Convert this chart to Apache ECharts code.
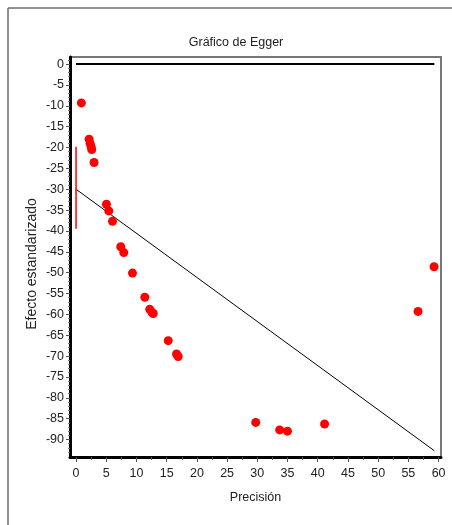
<!DOCTYPE html>
<html>
<head>
<meta charset="utf-8">
<title>Gráfico de Egger</title>
<script src="https://cdn.jsdelivr.net/npm/echarts@6/dist/echarts.min.js"></script>
<style>
  html, body { margin: 0; padding: 0; background: #fff; }
  #chart { width: 452px; height: 525px; }
</style>
</head>
<body>
<div id="chart"></div>
<script>
// puntos del gráfico (precisión, efecto estandarizado)
const precision = [0.88, 2.16, 2.32, 2.49, 2.6, 2.98, 5.03, 5.42, 6.03, 7.4, 7.9, 9.34,
  11.39, 12.2, 12.55, 12.77, 15.26, 16.63, 16.9, 29.74, 33.7, 34.99, 41.13, 56.6, 59.25]
const effect = [-9.3, -18, -19, -19.8, -20.5, -23.6, -33.6, -35.2, -37.7, -43.8, -45.2, -50.1,
  -55.9, -58.8, -59.5, -59.8, -66.3, -69.5, -70.1, -85.9, -87.7, -88.0, -86.3, -59.3, -48.6]

// línea cero y recta de regresión
const zeroLineX = [0, 59.3]
const zeroLineY = [0, 0]
const regLineX = [0, 59.3]
const regLineY = [-30, -92.7]
// intervalo de confianza del intercepto
const ciX = [0, 0]
const ciY = [-19.8, -39.5]

// marcas de los ejes
const xTicks = [0, 5, 10, 15, 20, 25, 30, 35, 40, 45, 50, 55, 60]
const xMinorTicks = [2.5, 7.5, 12.5, 17.5, 22.5, 27.5, 32.5, 37.5, 42.5, 47.5, 52.5, 57.5]
const yTicks = [0, -5, -10, -15, -20, -25, -30, -35, -40, -45, -50, -55, -60, -65, -70, -75, -80, -85, -90]
const yMinorTicks = [1, -1, -2, -3, -4, -6, -7, -8, -9, -11, -12, -13, -14, -16, -17, -18, -19,
  -21, -22, -23, -24, -26, -27, -28, -29, -31, -32, -33, -34, -36, -37, -38, -39,
  -41, -42, -43, -44, -46, -47, -48, -49, -51, -52, -53, -54, -56, -57, -58, -59,
  -61, -62, -63, -64, -66, -67, -68, -69, -71, -72, -73, -74, -76, -77, -78, -79,
  -81, -82, -83, -84, -86, -87, -88, -89, -91, -92, -93]

const X_MIN = -1
const X_MAX = 60.4
const Y_MIN = -94.2
const Y_MAX = 1.7

const font = 'Liberation Sans, Arial, sans-serif'
const pairs = (xs, ys) => xs.map((x, i) => [x, ys[i]])

const chart = echarts.init(document.getElementById('chart'), null, { renderer: 'canvas' })

const option = {
  animation: false,
  backgroundColor: '#fff',
  title: {
    text: 'Gráfico de Egger',
    left: 231,
    top: 31,
    textAlign: 'center',
    textStyle: { fontFamily: font, fontSize: 12.5, fontWeight: 'normal', color: '#222' }
  },
  graphic: [
    { type: 'line', shape: { x1: 8, y1: 8, x2: 452, y2: 8 }, style: { stroke: '#6a6a6a', lineWidth: 1.5 } },
    { type: 'line', shape: { x1: 8, y1: 8, x2: 8, y2: 525 }, style: { stroke: '#6a6a6a', lineWidth: 1.5 } }
  ],
  grid: {
    left: 70, top: 57, right: 11, bottom: 68,
    show: true, borderColor: '#777', borderWidth: 2, backgroundColor: '#fff'
  },
  xAxis: [
    {
      type: 'value', min: X_MIN, max: X_MAX, position: 'bottom',
      name: 'Precisión', nameLocation: 'middle', nameGap: 34, nameMoveOverlap: false,
      nameTextStyle: { fontFamily: font, fontSize: 12.5, color: '#222' },
      axisLine: { show: true, onZero: false, lineStyle: { color: '#000', width: 3 } },
      axisTick: { show: true, customValues: xTicks, length: 5, lineStyle: { color: '#555' } },
      axisLabel: { customValues: xTicks, margin: 10, fontFamily: font, fontSize: 12.5, color: '#222' },
      splitLine: { show: false }
    },
    {
      type: 'value', min: X_MIN, max: X_MAX, position: 'bottom',
      axisLine: { show: false, onZero: false },
      axisTick: { show: true, customValues: xMinorTicks, length: 3, lineStyle: { color: '#555' } },
      axisLabel: { show: false },
      splitLine: { show: false }
    }
  ],
  yAxis: [
    {
      type: 'value', min: Y_MIN, max: Y_MAX, position: 'left',
      name: 'Efecto estandarizado', nameLocation: 'middle', nameGap: 31, nameMoveOverlap: false,
      nameTextStyle: { fontFamily: font, fontSize: 14, color: '#222', padding: [0, 14, 0, 0] },
      axisLine: { show: true, onZero: false, lineStyle: { color: '#000', width: 3 } },
      axisTick: { show: true, customValues: yTicks, length: 4, lineStyle: { color: '#555' } },
      axisLabel: { customValues: yTicks, margin: 6, fontFamily: font, fontSize: 12.5, color: '#222' },
      splitLine: { show: false }
    },
    {
      type: 'value', min: Y_MIN, max: Y_MAX, position: 'left',
      axisLine: { show: false, onZero: false },
      axisTick: { show: true, customValues: yMinorTicks, length: 2, lineStyle: { color: '#777' } },
      axisLabel: { show: false },
      splitLine: { show: false }
    }
  ],
  series: [
    {
      name: 'cero', type: 'line', data: pairs(zeroLineX, zeroLineY),
      symbol: 'none', lineStyle: { color: '#000', width: 2 }, z: 2
    },
    {
      name: 'regresion', type: 'line', data: pairs(regLineX, regLineY),
      symbol: 'none', lineStyle: { color: '#000', width: 1 }, z: 2
    },
    {
      name: 'ic', type: 'line', data: pairs(ciX, ciY),
      symbol: 'none', lineStyle: { color: '#ff0000', width: 1.5 }, z: 3
    },
    {
      name: 'estudios', type: 'scatter', data: pairs(precision, effect),
      symbol: 'circle', symbolSize: 9,
      itemStyle: { color: '#ff0000', opacity: 1 }, z: 4
    }
  ]
}

chart.setOption(option)
</script>
</body>
</html>
